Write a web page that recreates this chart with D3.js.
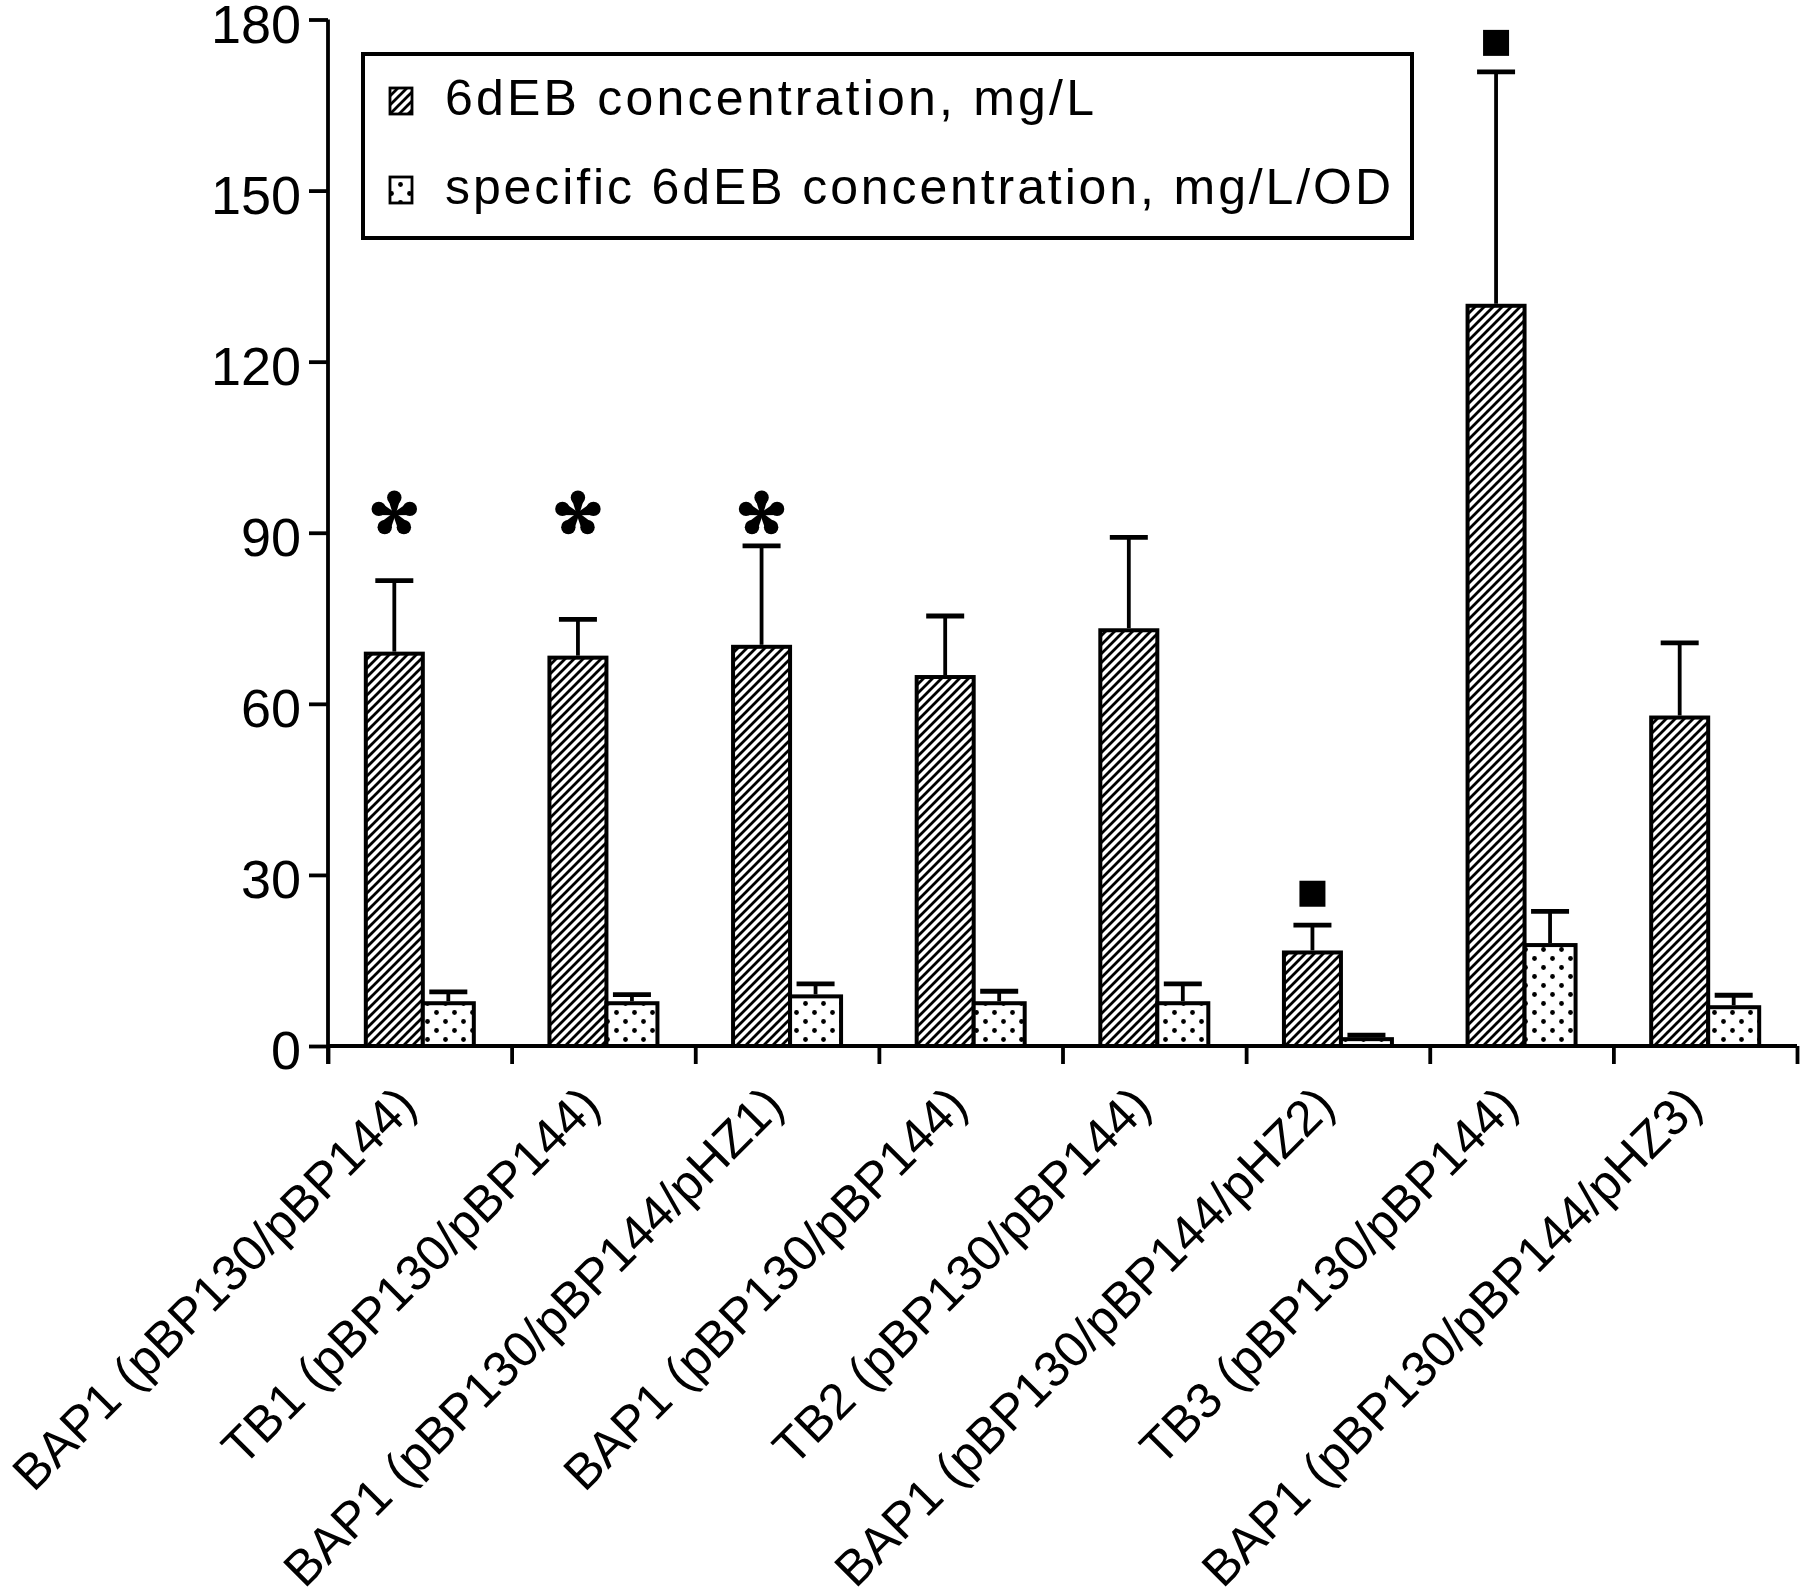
<!DOCTYPE html>
<html>
<head>
<meta charset="utf-8">
<script src="https://cdn.jsdelivr.net/npm/d3@7"></script>
<style>
  html, body { margin: 0; padding: 0; background: #fff; }
  svg { display: block; }
  text { font-family: "Liberation Sans", Arial, sans-serif; fill: #000; }
</style>
</head>
<body>
<svg id="chart" width="1800" height="1594"></svg>
<script>
// strains / plasmid sets on the x axis
const categories = [
  "BAP1 (pBP130/pBP144)",
  "TB1 (pBP130/pBP144)",
  "BAP1 (pBP130/pBP144/pHZ1)",
  "BAP1 (pBP130/pBP144)",
  "TB2 (pBP130/pBP144)",
  "BAP1 (pBP130/pBP144/pHZ2)",
  "TB3 (pBP130/pBP144)",
  "BAP1 (pBP130/pBP144/pHZ3)"
];

// 6dEB concentration, mg/L (mean and upper error)
const conc = [68.8, 68.1, 70.0, 64.7, 72.9, 16.4, 129.8, 57.6];
const concErr = [12.8, 6.7, 17.7, 10.7, 16.3, 4.8, 41.0, 13.1];

// specific 6dEB concentration, mg/L/OD
const specific = [7.5, 7.5, 8.7, 7.5, 7.5, 1.2, 17.7, 6.8];
const specificErr = [2.0, 1.5, 2.2, 2.1, 3.4, 0.7, 5.9, 2.1];

// significance marks above the concentration bars
const markType = ["star", "star", "star", null, null, "square", "square", null];
const markValue = [93.3, 93.3, 93.3, null, null, 26.7, 175.9, null];

const yTicks = [0, 30, 60, 90, 120, 150, 180];
const legendLabels = [
  "6dEB concentration, mg/L",
  "specific 6dEB concentration, mg/L/OD"
];

const svg = d3.select("#chart");

// patterns
const defs = svg.append("defs");
const hatch = defs.append("pattern")
  .attr("id", "hatch")
  .attr("patternUnits", "userSpaceOnUse")
  .attr("width", 9)
  .attr("height", 9);
hatch.append("rect").attr("width", 9).attr("height", 9).attr("fill", "#fff");
hatch.append("path")
  .attr("d", "M-3,3 L3,-3 M0,9 L9,0 M6,12 L12,6")
  .attr("stroke", "#000")
  .attr("stroke-width", 2.8);

const dots = defs.append("pattern")
  .attr("id", "dots")
  .attr("patternUnits", "userSpaceOnUse")
  .attr("width", 18)
  .attr("height", 18);
dots.append("rect").attr("width", 18).attr("height", 18).attr("fill", "#fff");
dots.append("circle").attr("cx", 4.5).attr("cy", 4.5).attr("r", 2.4).attr("fill", "#000");
dots.append("circle").attr("cx", 13.5).attr("cy", 13.5).attr("r", 2.4).attr("fill", "#000");

const plotLeft = 328, plotRight = 1797, plotTop = 19.5, base = 1046;

const y = d3.scaleLinear().domain([0, 180]).range([base, plotTop]);
const x = d3.scaleBand().domain(d3.range(categories.length)).range([plotLeft, plotRight]);
const xEdge = d3.scaleLinear().domain([0, categories.length]).range([plotLeft, plotRight]);

const hatchW = 57, dotW = 51;
const pairOff = (x.bandwidth() - hatchW - dotW) / 2;
const hx = i => x(i) + pairOff;
const dx = i => x(i) + pairOff + hatchW;

// y axis
const yAxis = svg.append("g")
  .attr("transform", `translate(${plotLeft},0)`)
  .call(d3.axisLeft(y).tickValues(yTicks).tickSize(19).tickPadding(8).tickFormat(d3.format("d")));
yAxis.select(".domain").attr("d", `M0,${plotTop}V${base + 18}`);
yAxis.selectAll("line, path").attr("stroke", "#000").attr("stroke-width", 3.8);
yAxis.selectAll("text")
  .attr("dy", "0.42em")
  .style("font-family", "'Liberation Sans', Arial, sans-serif")
  .style("font-size", "54px")
  .attr("fill", "#000");

// x axis with ticks at group edges
const xAxis = svg.append("g")
  .attr("transform", `translate(0,${base})`)
  .call(d3.axisBottom(xEdge).tickValues(d3.range(categories.length + 1)).tickSize(18).tickFormat(""));
xAxis.select(".domain").attr("d", `M${plotLeft},0H${plotRight}`);
xAxis.selectAll("line, path").attr("stroke", "#000").attr("stroke-width", 3.8);

// bars
const g = svg.append("g");
g.selectAll("rect.conc")
  .data(conc)
  .join("rect")
  .attr("class", "conc")
  .attr("x", (d, i) => hx(i))
  .attr("y", d => y(d))
  .attr("width", hatchW)
  .attr("height", d => base - y(d))
  .attr("fill", "url(#hatch)")
  .attr("stroke", "#000")
  .attr("stroke-width", 4);

g.selectAll("rect.spec")
  .data(specific)
  .join("rect")
  .attr("class", "spec")
  .attr("x", (d, i) => dx(i))
  .attr("y", d => y(d))
  .attr("width", dotW)
  .attr("height", d => base - y(d))
  .attr("fill", "url(#dots)")
  .attr("stroke", "#000")
  .attr("stroke-width", 4);

// error bars (upper only)
function errorBars(vals, errs, xPos, w) {
  const capW = 38;
  vals.forEach((v, i) => {
    const cx = xPos(i) + w / 2;
    g.append("line")
      .attr("x1", cx).attr("x2", cx)
      .attr("y1", y(v) - 2).attr("y2", y(v + errs[i]))
      .attr("stroke", "#000").attr("stroke-width", 3.8);
    g.append("line")
      .attr("x1", cx - capW / 2).attr("x2", cx + capW / 2)
      .attr("y1", y(v + errs[i])).attr("y2", y(v + errs[i]))
      .attr("stroke", "#000").attr("stroke-width", 4.8);
  });
}
errorBars(conc, concErr, hx, hatchW);
errorBars(specific, specificErr, dx, dotW);

// five-armed asterisk with teardrop arms
function drawStar(cx, cy, r) {
  const s = g.append("g").attr("transform", `translate(${cx},${cy})`);
  for (let k = 0; k < 5; k++) {
    const a = -Math.PI / 2 + k * 2 * Math.PI / 5;
    const ux = Math.cos(a), uy = Math.sin(a);
    const nx = -uy, ny = ux;
    const tipR = r * 0.3, tipD = r * 0.68;
    s.append("path")
      .attr("d", `M${nx * 1.5},${ny * 1.5} L${ux * tipD + nx * tipR * 0.9},${uy * tipD + ny * tipR * 0.9} L${ux * tipD - nx * tipR * 0.9},${uy * tipD - ny * tipR * 0.9} L${-nx * 1.5},${-ny * 1.5} Z`)
      .attr("fill", "#000");
    s.append("circle")
      .attr("cx", ux * tipD).attr("cy", uy * tipD)
      .attr("r", tipR)
      .attr("fill", "#000");
  }
}

markType.forEach((t, i) => {
  if (!t) return;
  const cx = hx(i) + hatchW / 2;
  const cy = y(markValue[i]);
  if (t === "star") {
    drawStar(cx, cy, 24);
  } else {
    g.append("rect")
      .attr("x", cx - 13).attr("y", cy - 13)
      .attr("width", 26).attr("height", 26)
      .attr("fill", "#000");
  }
});

// x labels, rotated, ending under each group
svg.append("g")
  .selectAll("text")
  .data(categories)
  .join("text")
  .attr("transform", (d, i) => `translate(${x(i) + x.bandwidth() / 2 - 1},${base + 62}) rotate(-45)`)
  .attr("text-anchor", "end")
  .style("font-size", "50px")
  .text(d => d);

// legend
const leg = svg.append("g");
leg.append("rect")
  .attr("x", 363).attr("y", 54)
  .attr("width", 1049).attr("height", 184)
  .attr("fill", "#fff")
  .attr("stroke", "#000")
  .attr("stroke-width", 4);
const legFill = ["url(#hatch)", "url(#dots)"];
const legRowY = [115, 204];
const legTextW = [649, 946];
legendLabels.forEach((lab, i) => {
  leg.append("rect")
    .attr("x", 390).attr("y", legRowY[i] - 27)
    .attr("width", 22).attr("height", 26)
    .attr("fill", legFill[i])
    .attr("stroke", "#000")
    .attr("stroke-width", 2.8);
  leg.append("text")
    .attr("x", 445).attr("y", legRowY[i])
    .attr("textLength", legTextW[i])
    .attr("lengthAdjust", "spacing")
    .style("font-size", "50px")
    .text(lab);
});
</script>
</body>
</html>
